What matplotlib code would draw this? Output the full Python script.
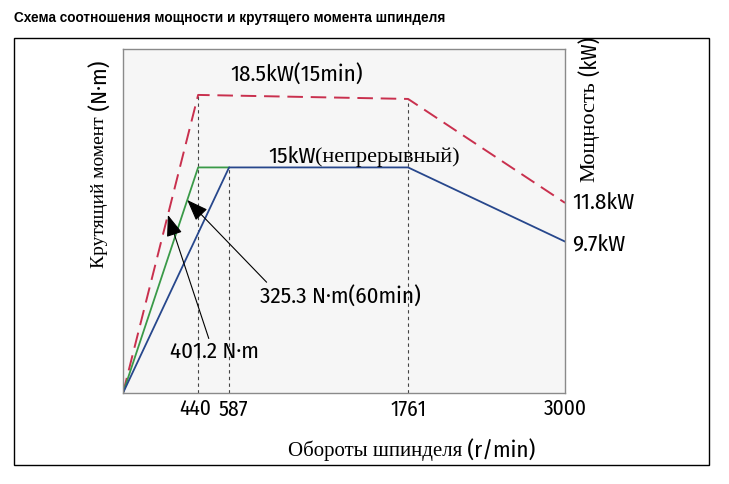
import numpy as np
import matplotlib
matplotlib.use("Agg")
import matplotlib.pyplot as plt
from matplotlib.patches import Rectangle
from matplotlib.transforms import ScaledTranslation

# spindle speed (r/min) and power curves (kW, as drawn)
rpm_peak = [0, 440, 1761, 3000]
kw_peak = [0, 18.5, 18.25, 11.8]          # 18.5kW (15min), dashed
rpm_torque = [0, 440, 587]
kw_torque = [0, 14.0, 14.0]               # 325.3 N·m (60min)
rpm_cont = [0, 587, 1761, 3000]
kw_cont = [0, 14.0, 14.0, 9.4]            # 15kW continuous

xtick_vals = [440, 587, 1761, 3000]
guide_x = [440, 587, 1761]
guide_top = [18.5, 14.0, 18.25]

# the original drawing is not to scale on the speed axis
scale_rpm = [-3000, 0, 440, 587, 1761, 3000, 6000]
scale_pos = [-1.0, 0.0, 0.170, 0.240, 0.645, 1.0, 2.0]

def fwd(x):
    return np.interp(x, scale_rpm, scale_pos)

def inv(p):
    return np.interp(p, scale_pos, scale_rpm)

NARROW = ['Fira Sans Condensed', 'IBM Plex Sans Condensed', 'Archivo Narrow', 'Liberation Sans']
SERIF = ['Liberation Serif', 'DejaVu Serif']
FS = 16.5

fig = plt.figure(figsize=(7.29, 4.84), dpi=100)
ax = fig.add_axes([123 / 729, 1 - 393 / 484, 442 / 729, 344 / 484])
ax.set_facecolor('#f6f6f6')
ax.set_xscale('function', functions=(fwd, inv))
ax.set_xlim(0, 3000)
ax.set_ylim(0, 21.35)

ax.vlines(guide_x, 0, guide_top, colors='#444444', linestyles=(0, (3, 3)), lw=0.8)
ax.plot(rpm_peak, kw_peak, color='#c9304e', lw=1.4, dashes=(8, 4))
ax.plot(rpm_torque, kw_torque, color='#3a9a48', lw=1.3)
ax.plot(rpm_cont, kw_cont, color='#27478c', lw=1.3)

ax.set_yticks([])
ax.set_xticks(xtick_vals)
ax.set_xticklabels([str(v) for v in xtick_vals], family=NARROW, fontsize=15.5)
ax.tick_params(axis='x', length=0, pad=4)
# nudge 440 left and 587 right so they don't run together
for lab, dx in zip(ax.get_xticklabels(), [-2.3, 2.9, 0, 0]):
    lab.set_transform(lab.get_transform() + ScaledTranslation(dx / 72, 0, fig.dpi_scale_trans))
for sp in ax.spines.values():
    sp.set_color('#8a8a8a')
    sp.set_linewidth(1.0)

# curve labels
ax.text(1033, 19.8, '18.5kW(15min)', family=NARROW, fontsize=FS,
        ha='center', va='center')
t15 = ax.text(842, 14.3, '15kW', family=NARROW, fontsize=FS,
              ha='left', va='baseline')
ax.annotate('(непрерывный)', xy=(1, 0), xycoords=t15, family=SERIF,
            fontsize=16, ha='left', va='bottom')
ax.annotate('11.8kW', xy=(3000, 11.8), xytext=(5, 0), textcoords='offset points',
            family=NARROW, fontsize=FS, ha='left', va='center')
ax.annotate('9.7kW', xy=(3000, 9.4), xytext=(5, -3), textcoords='offset points',
            family=NARROW, fontsize=FS, ha='left', va='center')

arrow = dict(arrowstyle='-|>,head_length=0.8,head_width=0.3', color='black',
             lw=0.8, shrinkA=0, shrinkB=0)
ax.annotate('401.2 N·m', xy=(263, 11.05), xytext=(516, 2.55),
            family=NARROW, fontsize=FS, ha='center', va='center',
            arrowprops=dict(arrow, relpos=(0.45, 1.0)))
ax.annotate('325.3 N·m(60min)', xy=(376, 11.98), xytext=(1315, 6.02),
            family=NARROW, fontsize=FS, ha='center', va='center',
            arrowprops=dict(arrow, relpos=(0.06, 1.0)))

# axis titles, serif Cyrillic followed by narrow Latin units
tl = fig.text(100 / 729, 1 - 268 / 484, 'Крутящий момент', family=SERIF,
              fontsize=14, rotation=90, ha='center', va='bottom')
ax.annotate(' (N·m)', xy=(0.5, 1), xycoords=tl, family=NARROW, fontsize=FS,
            rotation=90, ha='center', va='bottom', annotation_clip=False)

tr = fig.text(590 / 729, 1 - 182 / 484, 'Мощность', family=SERIF,
              fontsize=16, rotation=90, ha='center', va='bottom')
ax.annotate(' (kW)', xy=(0.5, 1), xycoords=tr, family=NARROW, fontsize=15.5,
            rotation=90, ha='center', va='bottom', annotation_clip=False)

tx = fig.text(288 / 729, 1 - 456 / 484, 'Обороты шпинделя', family=SERIF,
              fontsize=15, ha='left', va='baseline')
ax.annotate(' (r/min)', xy=(1, 0), xycoords=tx, family=NARROW, fontsize=FS,
            ha='left', va='bottom', annotation_clip=False)

fig.text(14 / 729, 1 - 18 / 484, 'Схема соотношения мощности и крутящего момента шпинделя',
         family=['Liberation Sans', 'DejaVu Sans'], fontsize=9.8, weight='bold',
         ha='left', va='center')

fig.add_artist(Rectangle((14 / 729, 1 - 465 / 484), 695 / 729, 427 / 484,
                         transform=fig.transFigure, fill=False, ec='black', lw=1.0))

fig.savefig('out.png', dpi=100)
